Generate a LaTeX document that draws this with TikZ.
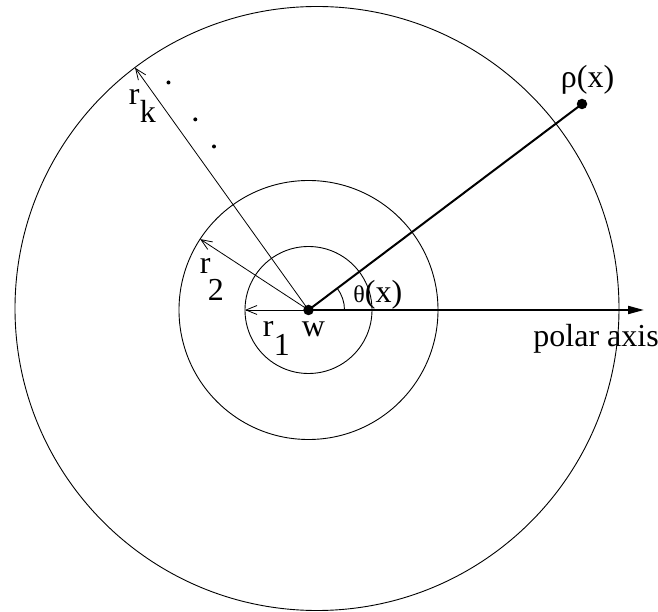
\documentclass[tikz,border=0pt]{standalone}
\usepackage{fontspec}
\setmainfont{Liberation Serif}
\usetikzlibrary{arrows.meta}

\begin{document}
\begin{tikzpicture}[x=1pt,y=1pt,line width=0.9pt,
  radline/.style={-{Straight Barb[length=11pt,width=9pt]},line width=0.8pt},
  ray/.style={line width=2pt},
  blob/.style={circle,fill,inner sep=0pt,minimum size=10.5pt},
  lbl/.style={anchor=base west,inner sep=0pt,font=\fontsize{32}{38}\selectfont}]
\useasboundingbox (-308.5,-302) rectangle (349.5,310);
% ---- centre and circles ----
\node[blob] (w) at (0,0) {};
\draw (w.center) circle[radius=63.5];
\draw (w.center) circle[radius=129.5];
\draw (8.5,1.5) circle[radius=302];
% ---- radii ----
\coordinate (tip1) at (180:63.5);
\coordinate (tip2) at (146.8:129.5);
\coordinate (tipk) at (125.6:298);
\draw[radline] (w.center) -- (tip1);
\draw[radline] (w.center) -- (tip2);
\draw[radline] (w.center) -- (tipk);
\foreach \p in {(-140,227.5),(-113.2,190.6),(-94.5,163.5)}
  \fill \p circle[radius=2];
% ---- point and polar axis ----
\node[blob] (rho) at (273.5,206) {};
\coordinate (axisend) at (335.5,0);
\draw[ray] (w.center) -- (rho.center);
\draw[ray,-{Triangle[length=16pt,width=8pt]}] (w.center) -- (axisend);
\draw ([shift={(0:36)}]w.center) arc[start angle=0,end angle=37,radius=36];
% ---- labels ----
\node[lbl] (rk)  at (-180,205) {r};
\node[lbl] (rks) at (-169,187) {k};
\node[lbl] (r2)  at (-109,36) {r};
\node[lbl] (r2s) at (-101,9) {2};
\node[lbl] (r1)  at (-46,-27) {r};
\node[lbl] (r1s) at (-35,-46) {1};
\node[lbl] (wl)  at (-7,-27) {w};
\node[lbl] (th)  at (44.5,7) {{\fontsize{24}{24}\selectfont θ}(x)};
\node[lbl] (rhol) at (252,222) {ρ(x)};
\node[lbl] (pa)  at (224.5,-36.5) {polar axis};
\end{tikzpicture}
\end{document}
